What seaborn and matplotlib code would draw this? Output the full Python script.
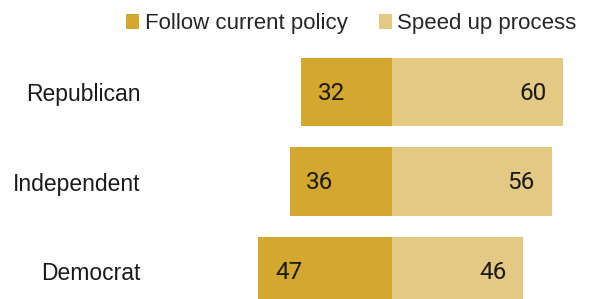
import numpy as np
import pandas as pd
import seaborn as sns
import matplotlib.pyplot as plt

#### Data
parties = ["Republican", "Independent", "Democrat"]
follow_policy = [32, 36, 47]
speed_up = [60, 56, 46]
series_names = ["Follow current policy", "Speed up process"]

color = ["#D4A72F", "#E3C983"]

sns.set_style("white")
plt.rcParams["font.family"] = ["Liberation Sans", "DejaVu Sans"]

df = pd.DataFrame({
    "party": parties * 2,
    "value": [-v for v in follow_policy] + speed_up,
    "stance": [series_names[0]] * 3 + [series_names[1]] * 3,
})

fig = plt.figure(figsize=(5.9, 2.99), dpi=100, facecolor="white")
ax = fig.add_axes([150 / 590, 0, 440 / 590, 252 / 299])

sns.barplot(data=df, x="value", y="party", hue="stance", order=parties,
            hue_order=series_names, palette=color, dodge=False, width=0.76,
            orient="h", linewidth=0, saturation=1, ax=ax)

ax.set_xlim(-85.0, 69.5)
ax.set_ylim(2.313, -0.503)

# value labels inside the bars
for i, v in enumerate(follow_policy):
    ax.annotate(str(v), (-v, i), xytext=(12, -1), textcoords="offset points",
                ha="left", va="center", fontsize=17.5, color="#1a1a1a",
                family=["Roboto", "DejaVu Sans"])
for i, v in enumerate(speed_up):
    ax.annotate(str(v), (v, i), xytext=(-12, -1), textcoords="offset points",
                ha="right", va="center", fontsize=17.5, color="#1a1a1a",
                family=["Roboto", "DejaVu Sans"])

ax.set_xticks([])
ax.tick_params(axis="y", length=0, pad=7, labelsize=16.5, labelcolor="#1a1a1a")
ax.set_xlabel("")
ax.set_ylabel("")
sns.despine(ax=ax, left=True, bottom=True)

sns.move_legend(ax, "upper right", bbox_to_anchor=(1.0, 1.0),
                bbox_transform=fig.transFigure, ncol=2, frameon=False,
                title=None, fontsize=16, handlelength=0.6, handleheight=0.6,
                handletextpad=0.25, columnspacing=1.4, borderaxespad=0.2)

plt.savefig("out.png", dpi=100, facecolor="white")
